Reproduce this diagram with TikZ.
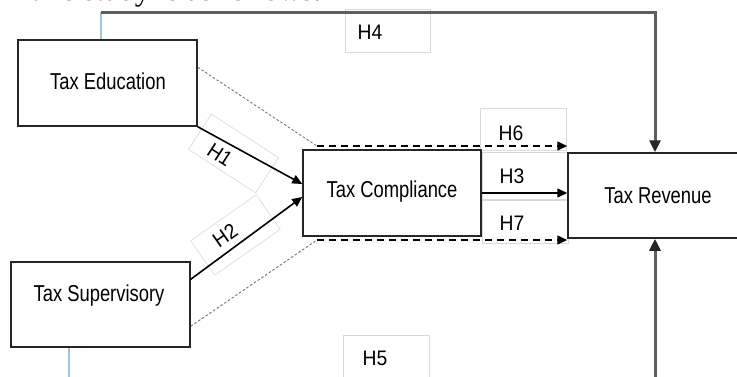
\documentclass[tikz,border=0pt]{standalone}
\usepackage{fontspec}
\setmainfont{Liberation Sans}
\newfontfamily\topserif{Liberation Serif}
\usetikzlibrary{arrows.meta,calc}
\definecolor{lblue}{HTML}{9DC3E6}
\definecolor{lgray}{HTML}{5E5E5E}
\newcommand\lab[1]{\scalebox{0.8}[1]{\fontsize{23}{23}\selectfont #1}}
\newcommand\hlab[1]{\scalebox{0.92}[1]{\fontsize{21}{21}\selectfont #1}}
\tikzset{
  varbox/.style={draw=black!85, line width=1.5pt, minimum width=179pt, minimum height=86pt, inner sep=0pt},
  lbox/.style={draw=black!15, line width=0.6pt, inner sep=0pt},
  arr/.style={-{Triangle[length=10pt,width=9pt]}, line width=1.6pt, black},
  darr/.style={arr, dash pattern=on 7pt off 5pt},
  dotl/.style={black!55, line width=0.9pt, dash pattern=on 2.5pt off 2pt},
  garr/.style={lgray, line width=3pt, -{Triangle[length=12pt,width=11pt,color=black!85]}},
  bline/.style={lblue, line width=2pt},
}
\begin{document}
\begin{tikzpicture}[x=1pt,y=-1pt]
\useasboundingbox (0,0) rectangle (737,376);
\clip (0,0) rectangle (737,376);
% top text fragment
\node[anchor=base east, inner sep=0pt, font=\topserif\fontsize{31}{31}\selectfont] (toptext) at (322,0.5) {all this study is as follows:};
% label boxes
\node[lbox, minimum width=85pt, minimum height=43pt] (h4box) at (387.5,30.5) {};
\node[lbox, minimum width=86pt, minimum height=45pt] (h5box) at (386,357.5) {};
\node[lbox, minimum width=86pt, minimum height=42pt] (h6box) at (523,129) {};
\node[lbox, minimum width=86pt, minimum height=47pt] (h3box) at (525,176) {};
\node[lbox, minimum width=86pt, minimum height=43pt] (h7box) at (525,221.5) {};
\node[lbox, minimum width=80pt, minimum height=42pt, rotate=-33] (h1) at (233.5,153.5)
  {\raisebox{-8.6pt}[\height][\depth]{\hlab{H1}}\hspace*{21pt}};
\node[lbox, minimum width=80pt, minimum height=42pt, rotate=35] (h2) at (235.5,235)
  {\raisebox{6pt}[\height][\depth]{\hlab{H2}}\hspace*{17pt}};
% variable boxes
\node[varbox] (edu) at (107.5,83) {};
\node (edut) at (108,81) {\lab{Tax Education}};
\node[varbox, minimum height=85pt] (sup) at (100.5,304.5) {};
\node (supt) at (99,296) {\lab{Tax Supervisory}};
\node[varbox, minimum width=178pt] (comp) at (392,193) {};
\node (compt) at (392,192) {\lab{Tax Compliance}};
\node[varbox, minimum width=180pt, minimum height=85pt] (rev) at (658,195.5) {};
\node (revt) at (658,196) {\lab{Tax Revenue}};
% coordinates
\coordinate (d1) at (317,146);
\coordinate (d2) at (317,240);
\coordinate (t1) at (101,12);
\coordinate (t2) at (655,12);
\coordinate (b1) at (69,390);
\coordinate (b2) at (655,390);
% H4 / H5 long paths
\draw[bline] (t1 |- edu.north) -- (t1);
\draw[garr] (t1) -- (t2) -- (t2 |- rev.north);
\draw[bline] (b1 |- sup.south) -- (b1);
\draw[garr] (b2) -- (b2 |- rev.south);
% dotted mediation lines
\draw[dotl] ([yshift=-28pt]edu.north east) -- (d1);
\draw[dotl] ([yshift=-65pt]sup.north east) -- (d2);
% arrows
\draw[arr] (edu.south east) -- ([yshift=9pt]comp.west);
\draw[arr] ([yshift=-18pt]sup.north east) -- ([yshift=-4pt]comp.west);
\draw[darr] (d1) -- (d1 -| rev.west);
\draw[arr] (comp.east) -- (comp.east -| rev.west);
\draw[darr] (d2) -- (d2 -| rev.west);
% labels
\node (h4) at (370,32) {\hlab{H4}};
\node (h5) at (375,358) {\hlab{H5}};
\node (h6) at (511,133) {\hlab{H6}};
\node (h3) at (512,176) {\hlab{H3}};
\node (h7) at (512,223) {\hlab{H7}};
\end{tikzpicture}
\end{document}
